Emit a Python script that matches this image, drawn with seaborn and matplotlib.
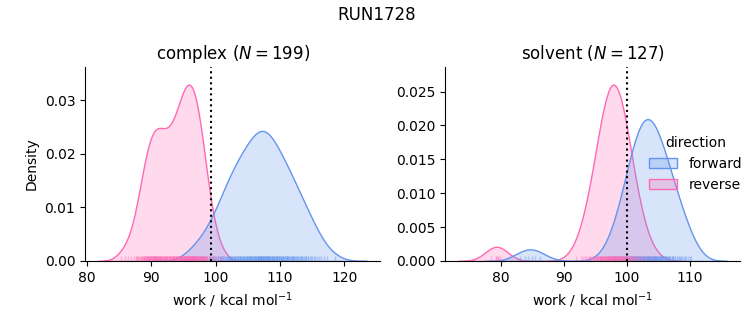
import numpy as np
import pandas as pd
import matplotlib
matplotlib.use("Agg")
import matplotlib.pyplot as plt
import seaborn as sns

run_name = "RUN1728"
directions = ["forward", "reverse"]
palette = {"forward": "cornflowerblue", "reverse": "hotpink"}
n_attempted = 320  # work slots per direction, failed runs stay as inf

complex_forward = [
    95.6, 96.4, 96.8, 97.3, 97.7, 98.0, 98.3, 98.6, 98.9, 99.1, 99.4,
    99.6, 99.7, 99.9, 100.1, 100.3, 100.4,
    100.6, 100.7, 100.8, 100.9, 101.1, 101.2, 101.3, 101.4,
    101.6, 101.7, 101.8, 101.9, 102.0, 102.0, 102.1, 102.2, 102.3, 102.4,
    102.5, 102.6, 102.7, 102.8, 102.9, 103.0, 103.0, 103.1, 103.2, 103.3, 103.4, 103.5,
    103.5, 103.6, 103.7, 103.8, 103.8, 103.9, 104.0, 104.1, 104.2, 104.2, 104.3, 104.4, 104.5,
    104.5, 104.6, 104.7, 104.8, 104.8, 104.9, 105.0, 105.0, 105.1, 105.2, 105.3, 105.3, 105.4, 105.5,
    105.5, 105.6, 105.7, 105.7, 105.8, 105.9, 105.9, 106.0, 106.1, 106.1, 106.2, 106.3, 106.3, 106.4, 106.5,
    106.5, 106.6, 106.6, 106.7, 106.8, 106.8, 106.9, 106.9, 107.0, 107.0, 107.1, 107.1, 107.2, 107.2,
    107.3, 107.4, 107.4, 107.5,
    107.5, 107.6, 107.7, 107.7, 107.8, 107.8, 107.9, 108.0, 108.0, 108.1, 108.2, 108.2, 108.3, 108.3,
    108.4, 108.5,
    108.5, 108.6, 108.7, 108.7, 108.8, 108.9, 108.9, 109.0, 109.1, 109.1, 109.2, 109.3, 109.3, 109.4, 109.5,
    109.5, 109.6, 109.7, 109.8, 109.8, 109.9, 110.0, 110.1, 110.2, 110.2, 110.3, 110.4, 110.5,
    110.5, 110.6, 110.7, 110.8, 110.9, 111.0, 111.0, 111.1, 111.2, 111.3, 111.4, 111.5,
    111.6, 111.7, 111.8, 111.9, 112.0, 112.0, 112.1, 112.2, 112.3, 112.4,
    112.6, 112.7, 112.8, 112.9, 113.1, 113.2, 113.3, 113.4,
    113.6, 113.7, 113.9, 114.0, 114.1, 114.3, 114.4,
    114.6, 114.8, 115.0, 115.2, 115.4, 115.7, 116.0, 116.3, 116.8, 117.3, 118.6,
]
complex_reverse = [
    85.3, 85.9, 86.4, 86.9, 87.3, 87.8,
    87.6, 87.8, 88.0, 88.1, 88.3, 88.4,
    88.5, 88.6, 88.7, 88.8, 88.8, 88.9, 89.0, 89.1, 89.2, 89.2, 89.3, 89.4, 89.5,
    89.5, 89.6, 89.6, 89.7, 89.8, 89.8, 89.9, 89.9, 90.0, 90.1, 90.1, 90.2, 90.2, 90.3, 90.4, 90.4, 90.5,
    90.5, 90.6, 90.6, 90.7, 90.8, 90.8, 90.9, 90.9, 91.0, 91.1, 91.1, 91.2, 91.2, 91.3, 91.4, 91.4, 91.5,
    91.5, 91.6, 91.7, 91.7, 91.8, 91.9, 91.9, 92.0, 92.1, 92.1, 92.2, 92.3, 92.3, 92.4, 92.5,
    92.5, 92.6, 92.7, 92.7, 92.8, 92.9, 92.9, 93.0, 93.1, 93.1, 93.2, 93.3, 93.3, 93.4, 93.5,
    93.5, 93.6, 93.6, 93.7, 93.8, 93.8, 93.9, 93.9, 94.0, 94.1, 94.1, 94.2, 94.2, 94.3, 94.4, 94.4, 94.5,
    94.5, 94.6, 94.6, 94.7, 94.7, 94.7, 94.8, 94.8, 94.9, 94.9, 95.0, 95.0, 95.1, 95.1, 95.2, 95.2,
    95.2, 95.3, 95.3, 95.4, 95.4, 95.5,
    95.5, 95.6, 95.6, 95.7, 95.7, 95.7, 95.8, 95.8, 95.9, 95.9, 96.0, 96.0, 96.0, 96.1, 96.1, 96.2,
    96.2, 96.3, 96.3, 96.3, 96.4, 96.4, 96.5,
    96.5, 96.6, 96.6, 96.7, 96.7, 96.7, 96.8, 96.8, 96.9, 96.9, 97.0, 97.0, 97.1, 97.1, 97.2, 97.2,
    97.2, 97.3, 97.3, 97.4, 97.4, 97.5,
    97.5, 97.6, 97.7, 97.7, 97.8, 97.8, 97.9, 98.0, 98.0, 98.1, 98.2, 98.2, 98.3, 98.3, 98.4, 98.5,
    98.6, 98.7, 98.9, 99.1, 99.3, 99.4,
    99.7, 100.0, 100.3, 101.0,
]
solvent_forward = [
    83.1, 83.9, 84.4, 84.9, 85.5, 86.3,
    97.0, 97.7, 98.0, 98.3, 98.6, 98.8, 99.0, 99.2, 99.4,
    99.6, 99.7, 99.8, 99.9, 100.1, 100.2, 100.3, 100.4,
    100.5, 100.6, 100.7, 100.8, 100.9, 101.0, 101.0, 101.1, 101.2, 101.3, 101.4, 101.5,
    101.5, 101.6, 101.7, 101.7, 101.8, 101.9, 101.9, 102.0, 102.1, 102.1, 102.2, 102.3, 102.3, 102.4, 102.5,
    102.5, 102.6, 102.7, 102.7, 102.8, 102.8, 102.9, 103.0, 103.0, 103.1, 103.2, 103.2, 103.3, 103.3,
    103.4, 103.5,
    103.5, 103.6, 103.7, 103.7, 103.8, 103.9, 103.9, 104.0, 104.1, 104.1, 104.2, 104.3, 104.3, 104.4, 104.5,
    104.5, 104.6, 104.7, 104.8, 104.8, 104.9, 105.0, 105.1, 105.2, 105.2, 105.3, 105.4, 105.5,
    105.5, 105.6, 105.7, 105.8, 105.9, 106.0, 106.1, 106.2, 106.3, 106.4, 106.5,
    106.6, 106.7, 106.8, 106.9, 107.1, 107.2, 107.3, 107.4,
    107.6, 107.7, 107.9, 108.1, 108.3, 108.4,
    108.6, 108.8, 109.0, 109.2, 109.4, 109.7, 110.0, 110.2,
]
solvent_reverse = [
    78.5, 79.2, 79.3, 79.5, 79.6, 79.9,
    92.0, 92.7, 93.0, 93.3, 93.6, 93.8, 94.0, 94.2, 94.4,
    94.6, 94.7, 94.8, 94.9, 95.0, 95.1, 95.2, 95.3, 95.4,
    95.5, 95.6, 95.7, 95.7, 95.8, 95.9, 95.9, 96.0, 96.1, 96.1, 96.2, 96.3, 96.3, 96.4, 96.5,
    96.5, 96.6, 96.6, 96.7, 96.7, 96.8, 96.8, 96.9, 97.0, 97.0, 97.0, 97.1, 97.2, 97.2, 97.3, 97.3,
    97.4, 97.4, 97.5,
    97.5, 97.6, 97.6, 97.7, 97.7, 97.8, 97.8, 97.9, 97.9, 97.9, 98.0, 98.0, 98.0, 98.1, 98.1, 98.2,
    98.2, 98.3, 98.3, 98.4, 98.4, 98.5,
    98.5, 98.6, 98.6, 98.7, 98.7, 98.8, 98.9, 98.9, 99.0, 99.0, 99.1, 99.1, 99.2, 99.3, 99.3, 99.4,
    99.4, 99.5,
    99.5, 99.6, 99.7, 99.8, 99.8, 99.9, 100.0, 100.0, 100.1, 100.2, 100.3, 100.3, 100.4, 100.5,
    100.6, 100.7, 100.8, 100.9, 101.1, 101.2, 101.3, 101.4,
    101.6, 101.9, 102.1, 102.4, 102.8, 103.3, 104.0,
]
# free energy estimates (dotted lines)
complex_dg = 99.2
solvent_dg = 100.1


def work_table(forward, reverse):
    parts = []
    for direction, works in zip(directions, [forward, reverse]):
        padded = list(works) + [np.inf] * (n_attempted - len(works))
        parts.append(pd.DataFrame({"work": padded, "direction": direction}))
    return pd.concat(parts, ignore_index=True)


phases = [
    ("complex", complex_forward, complex_reverse, complex_dg),
    ("solvent", solvent_forward, solvent_reverse, solvent_dg),
]

fig, axes = plt.subplots(1, 2, figsize=(7.53, 3.25), dpi=100)
fig.subplots_adjust(left=0.113, right=0.983, bottom=0.197, top=0.794, wspace=0.22)

for i, (ax, (phase, fwd, rev, dg)) in enumerate(zip(axes, phases)):
    df = work_table(fwd, rev)
    sns.kdeplot(data=df, x="work", hue="direction", hue_order=directions,
                palette=palette, fill=True, legend=(i == 1), ax=ax)
    sns.rugplot(data=df, x="work", hue="direction", hue_order=directions,
                palette=palette, alpha=0.4, legend=False, ax=ax)
    ax.axvline(dg, color="k", ls=":")
    ax.set_title(f"{phase} ($N = {len(fwd)}$)")
    ax.set_xlabel("work / kcal mol$^{-1}$")
    if i == 1:
        ax.set_ylabel("")

sns.move_legend(axes[1], "center left", bbox_to_anchor=(0.65, 0.5), frameon=False)
sns.despine(fig)
fig.suptitle(run_name)

plt.savefig("out.png")
